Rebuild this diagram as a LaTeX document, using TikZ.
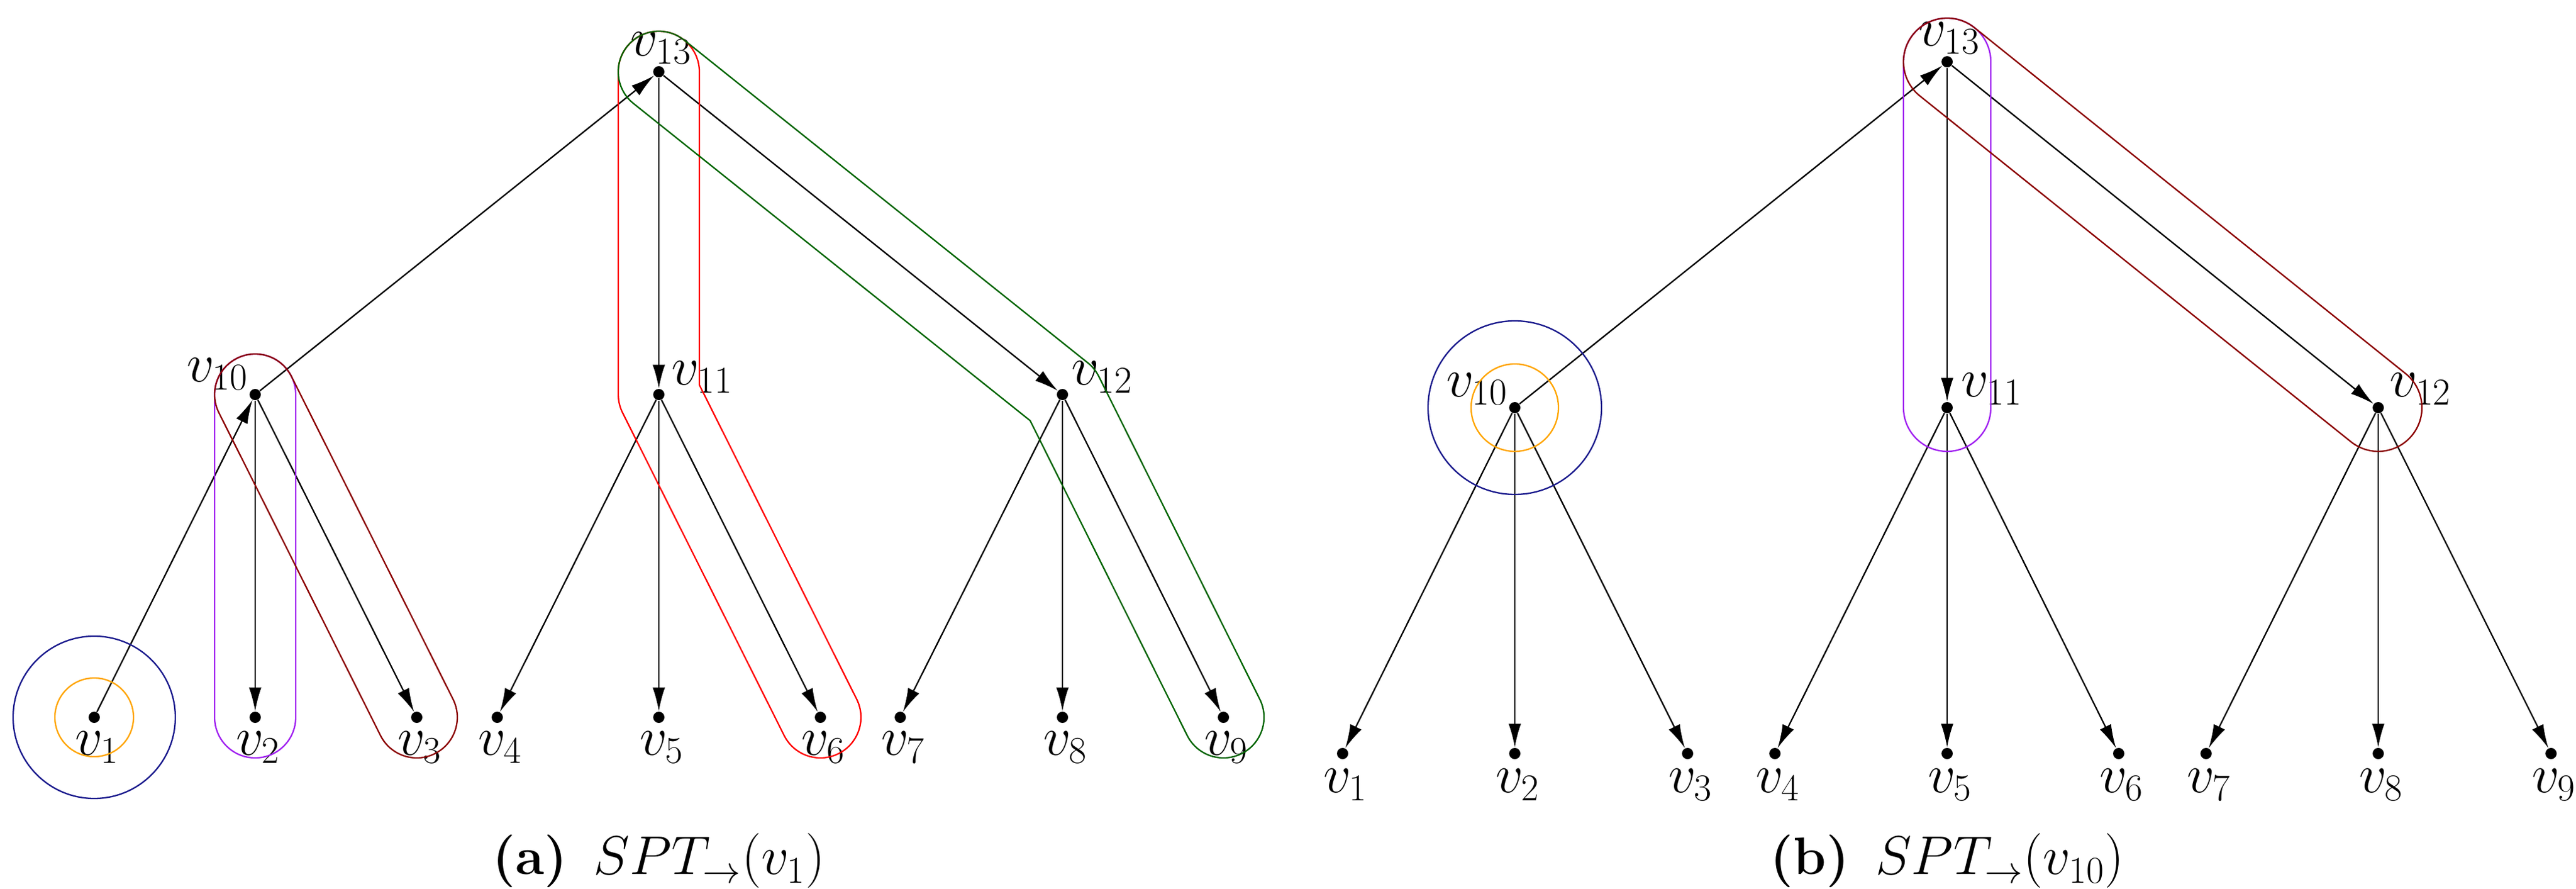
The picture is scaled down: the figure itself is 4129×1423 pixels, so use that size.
\documentclass[tikz,border=0pt]{standalone}
\usetikzlibrary{calc,arrows.meta}
\definecolor{hblue}{RGB}{25,25,140}
\definecolor{horange}{RGB}{255,165,0}
\definecolor{hpurple}{RGB}{160,32,240}
\definecolor{hdred}{RGB}{139,0,0}
\definecolor{hgreen}{RGB}{0,100,0}
\newcommand{\stadium}[4]{\draw[hull,#4] let \p1=($(#2)-(#1)$), \n1={atan2(\y1,\x1)} in ($(#1)+(\n1+90:#3)$) -- ($(#2)+(\n1+90:#3)$) arc[start angle=\n1+90, delta angle=-180, radius=#3] -- ($(#1)+(\n1-90:#3)$) arc[start angle=\n1-90, delta angle=-180, radius=#3] -- cycle;}
\tikzset{
  dot/.style={circle,fill=black,inner sep=0pt,minimum size=0.18cm},
  lab/.style={inner sep=0pt,font=\fontsize{27}{30}\selectfont},
  captext/.style={inner sep=0pt,font=\fontsize{24}{28}\selectfont},
  edge/.style={line width=0.65pt,-{Latex[length=0.38cm,width=0.2cm]}},
  hull/.style={line width=0.65pt}
}
\begin{document}
\begin{tikzpicture}[x=0.01cm,y=0.01cm]
\useasboundingbox (0,0) rectangle (4129,1423);
% ---------- left panel ----------
\foreach \i/\x in {1/151,2/409,3/668,4/797,5/1056,6/1315,7/1443,8/1703,9/1961}{
  \node[dot] (a\i) at (\x,274) {};
  \node[lab] (la\i) at ($(a\i)+(5,-48)$) {$v_{\i}$};
}
\node[dot] (a10) at (409,791) {};
\node[dot] (a11) at (1056,791) {};
\node[dot] (a12) at (1703,791) {};
\node[dot] (a13) at (1056,1308) {};
\node[lab] (la10) at ($(a10)+(-60,33)$) {$v_{10}$};
\node[lab] (la11) at ($(a11)+(70,28)$) {$v_{11}$};
\node[lab] (la12) at ($(a12)+(64,28)$) {$v_{12}$};
\node[lab] (la13) at ($(a13)+(4,38)$) {$v_{13}$};
\draw[edge] (a1) -- (a10);
\draw[edge] (a10) -- (a13);
\draw[edge] (a13) -- (a11);
\draw[edge] (a13) -- (a12);
\foreach \p/\c in {10/2,10/3,11/4,11/5,11/6,12/7,12/8,12/9}{\draw[edge] (a\p) -- (a\c);}
\draw[hull,hblue] (a1) circle[radius=130];
\draw[hull,horange] (a1) circle[radius=63];
\stadium{a10}{a2}{65}{hpurple}
\stadium{a10}{a3}{65}{hdred}
\draw[hull,red] (1121,1308) -- (1121,806.4) -- (1373.1,303.1) arc[start angle=26.6,delta angle=-180,radius=65] -- (997.9,761.9) arc[start angle=206.6,delta angle=-26.6,radius=65] -- (991,1308) arc[start angle=180,delta angle=-180,radius=65] -- cycle;
\draw[hull,hgreen] (1096.6,1358.8) -- (1743.6,841.8) arc[start angle=51.4,delta angle=-24.9,radius=65] -- (2019.2,303.0) arc[start angle=26.5,delta angle=-180,radius=65] -- (1651.2,749.2) -- (1015.4,1257.2) arc[start angle=231.4,delta angle=-180,radius=65] -- cycle;
\node[captext] (capa) at (1056,44) {\textbf{(a)}\enspace $SPT_{\rightarrow}(v_1)$};
% ---------- right panel ----------
\foreach \i/\x in {1/2152,2/2428,3/2705,4/2845,5/3121,6/3396,7/3536,8/3812,9/4089}{
  \node[dot] (b\i) at (\x,216) {};
  \node[lab] (lb\i) at ($(b\i)+(5,-50)$) {$v_{\i}$};
}
\node[dot] (b10) at (2428,770) {};
\node[dot] (b11) at (3121,770) {};
\node[dot] (b12) at (3812,770) {};
\node[dot] (b13) at (3121,1324) {};
\node[lab] (lb10) at ($(b10)+(-60,30)$) {$v_{10}$};
\node[lab] (lb11) at ($(b11)+(72,30)$) {$v_{11}$};
\node[lab] (lb12) at ($(b12)+(68,30)$) {$v_{12}$};
\node[lab] (lb13) at ($(b13)+(4,38)$) {$v_{13}$};
\draw[edge] (b10) -- (b13);
\draw[edge] (b13) -- (b11);
\draw[edge] (b13) -- (b12);
\foreach \p/\c in {10/1,10/2,10/3,11/4,11/5,11/6,12/7,12/8,12/9}{\draw[edge] (b\p) -- (b\c);}
\draw[hull,hblue] (b10) circle[radius=139];
\draw[hull,horange] (b10) circle[radius=70];
\stadium{b13}{b11}{70}{hpurple}
\stadium{b13}{b12}{70}{hdred}
\node[captext] (capb) at (3121,44) {\textbf{(b)}\enspace $SPT_{\rightarrow}(v_{10})$};
\end{tikzpicture}
\end{document}
